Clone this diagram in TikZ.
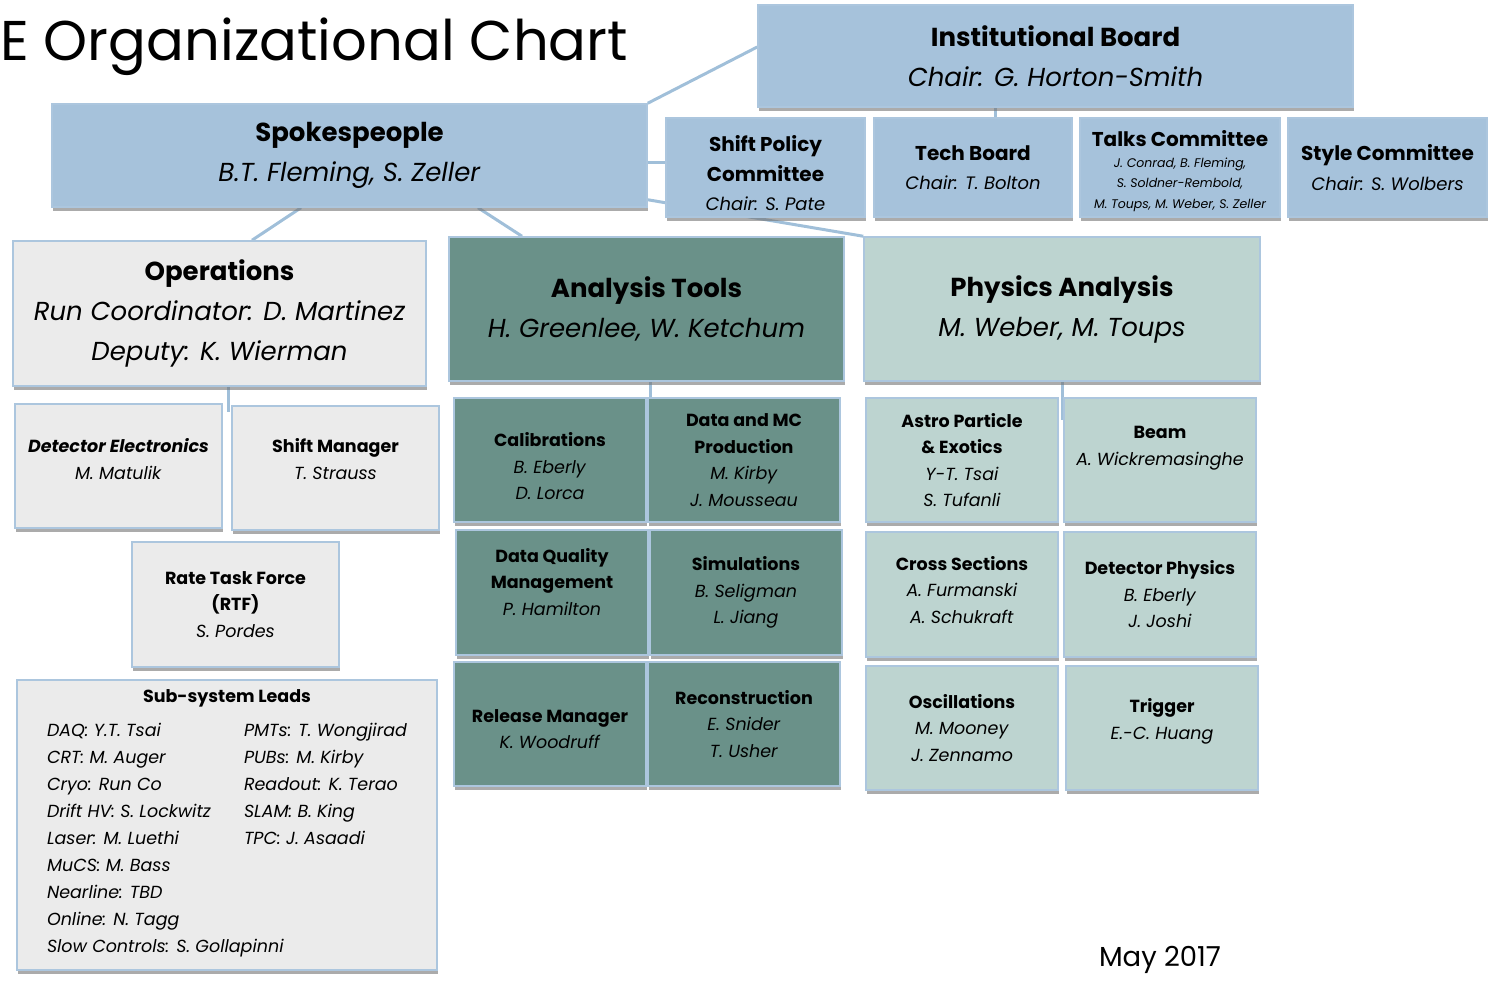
\documentclass[tikz,border=0pt]{standalone}
\usepackage{fontspec}
\setmainfont{Poppins}
\usepackage{xcolor}
\usetikzlibrary{positioning,shadows,backgrounds}

\definecolor{boardblue}{RGB}{166,194,219}
\definecolor{edgeblue}{RGB}{172,198,222}
\definecolor{opsgray}{RGB}{235,235,235}
\definecolor{tooldark}{RGB}{106,145,137}
\definecolor{physlight}{RGB}{189,212,208}
\definecolor{linkblue}{RGB}{160,191,217}

\newcommand{\chairline}[1]{{\fontsize{18}{22}\selectfont\itshape #1}}
\newcommand{\talksline}[1]{{\fontsize{12.5}{20.5}\selectfont\itshape #1}}

\tikzset{
    orgbox/.style={draw=edgeblue, line width=1.5pt, inner sep=2pt, align=center,
        drop shadow={shadow xshift=1pt, shadow yshift=-4pt, fill=black!55, opacity=0.6}},
    boardbox/.style={orgbox, fill=boardblue},
    opsbox/.style={orgbox, fill=opsgray},
    toolbox/.style={orgbox, fill=tooldark},
    physbox/.style={orgbox, fill=physlight},
    boxsize/.style 2 args={minimum width=#1, minimum height=#2},
    link/.style={draw=linkblue, line width=3pt},
    bigtext/.style={font=\fontsize{26}{40}\selectfont},
    midtext/.style={font=\fontsize{20}{29.5}\selectfont},
    smalltext/.style={font=\fontsize{17.5}{26.5}\selectfont}
}

\begin{document}
\begin{tikzpicture}[x=1pt, y=-1pt]
    \useasboundingbox (0,0) rectangle (1501,981);

    % Title
    \node[anchor=base west, inner sep=0pt, font=\fontsize{56}{60}\selectfont] (title) at (0,61) {E Organizational Chart};

    % Top level
    \node[boardbox, boxsize={595}{102}, bigtext] (inst) at (1055.5,56)
        {\textbf{Institutional Board}\\\textit{Chair: G. Horton-Smith}};
    \node[boardbox, boxsize={595}{103}, bigtext] (spokes) at (349.5,155.5)
        {\textbf{Spokespeople}\\\textit{B.T. Fleming, S. Zeller}};

    % Committees
    \node[boardbox, boxsize={199}{99}, midtext] (shiftpol) at (765.5,167.5)
        {\mbox{}\\[-2pt]\textbf{Shift Policy}\\\textbf{Committee}\\\chairline{Chair: S. Pate}};
    \node[boardbox, boxsize={198}{99}, midtext] (tech) at (973,167.5)
        {\textbf{Tech Board}\\\chairline{Chair: T. Bolton}};
    \node[boardbox, boxsize={200}{99}, midtext] (talks) at (1180,167.5)
        {\mbox{}\\[-6.5pt]\textbf{Talks Committee}\\[-9pt]\talksline{J. Conrad, B. Fleming,}\\[-9pt]\talksline{S. Soldner-Rembold,}\\[-9pt]\talksline{M. Toups, M. Weber, S. Zeller}};
    \node[boardbox, boxsize={199}{99}, midtext] (style) at (1387.5,167.5)
        {\textbf{Style Committee}\\\chairline{Chair: S. Wolbers}};

    % Groups
    \node[opsbox, boxsize={413}{145}, bigtext] (ops) at (219.5,313.5)
        {\textbf{Operations}\\\textit{Run Coordinator: D. Martinez}\\\textit{Deputy: K. Wierman}};
    \node[toolbox, boxsize={395}{144}, bigtext] (tools) at (646.5,309)
        {\textbf{Analysis Tools}\\\textit{H. Greenlee, W. Ketchum}};
    \node[physbox, boxsize={396}{144}, bigtext] (phys) at (1062,309)
        {\textbf{Physics Analysis}\\\textit{M. Weber, M. Toups}};

    % Operations
    \node[opsbox, boxsize={207}{124}, smalltext] (detel) at (118.5,466)
        {\textbf{\textit{Detector Electronics}}\\\textit{M. Matulik}\\[-12.5pt]};
    \node[opsbox, boxsize={207}{124}, smalltext] (shiftman) at (335.5,468)
        {\textbf{Shift Manager}\\\textit{T. Strauss}\\[-8.5pt]};
    \node[opsbox, boxsize={207}{125}, smalltext] (rtf) at (235.5,604.5)
        {\textbf{Rate Task Force}\\\textbf{(RTF)}\\\textit{S. Pordes}};
    \node[opsbox, boxsize={420}{290}, smalltext] (leads) at (227,825)
        {\textbf{Sub-system Leads}\\[9pt]
        \renewcommand{\arraystretch}{1.02}\itshape
        \begin{tabular}{@{}p{197pt}@{}l@{}}
            DAQ: Y.T. Tsai & PMTs: T. Wongjirad\\
            CRT: M. Auger & PUBs: M. Kirby\\
            Cryo: Run Co & Readout: K. Terao\\
            Drift HV: S. Lockwitz & SLAM: B. King\\
            Laser: M. Luethi & TPC: J. Asaadi\\
            MuCS: M. Bass & \\
            Nearline: TBD & \\
            Online: N. Tagg & \\
            \multicolumn{2}{@{}l@{}}{Slow Controls: S. Gollapinni}\\
        \end{tabular}};

    % Analysis tools
    \node[toolbox, boxsize={192}{124}, smalltext] (calib) at (550,460)
        {\mbox{}\\[0pt]\textbf{Calibrations}\\\textit{B. Eberly}\\\textit{D. Lorca}};
    \node[toolbox, boxsize={192}{124}, smalltext] (prod) at (744,460)
        {\textbf{Data and MC}\\\textbf{Production}\\\textit{M. Kirby}\\\textit{J. Mousseau}};
    \node[toolbox, boxsize={192}{125}, smalltext] (dqm) at (552,592.5)
        {\textbf{Data Quality}\\\textbf{Management}\\\textit{P. Hamilton}\\[-4.5pt]};
    \node[toolbox, boxsize={192}{125}, smalltext] (sims) at (746,592.5)
        {\textbf{Simulations}\\\textit{B. Seligman}\\\textit{L. Jiang}};
    \node[toolbox, boxsize={192}{124}, smalltext] (release) at (550,724)
        {\mbox{}\\[-3.5pt]\textbf{Release Manager}\\\textit{K. Woodruff}};
    \node[toolbox, boxsize={192}{124}, smalltext] (reco) at (744,724)
        {\textbf{Reconstruction}\\\textit{E. Snider}\\\textit{T. Usher}};

    % Physics analysis
    \node[physbox, boxsize={192}{124}, smalltext] (astro) at (962,460)
        {\textbf{Astro Particle}\\\textbf{\& Exotics}\\\textit{Y-T. Tsai}\\\textit{S. Tufanli}};
    \node[physbox, boxsize={192}{124}, smalltext] (beam) at (1160,460)
        {\textbf{Beam}\\\textit{A. Wickremasinghe}\\[1.5pt]};
    \node[physbox, boxsize={192}{125}, smalltext] (xsec) at (962,594.5)
        {\textbf{Cross Sections}\\\textit{A. Furmanski}\\\textit{A. Schukraft}\\[-16.5pt]};
    \node[physbox, boxsize={192}{125}, smalltext] (detphys) at (1160,594.5)
        {\textbf{Detector Physics}\\\textit{B. Eberly}\\\textit{J. Joshi}};
    \node[physbox, boxsize={192}{124}, smalltext] (osc) at (962,728)
        {\textbf{Oscillations}\\\textit{M. Mooney}\\\textit{J. Zennamo}};
    \node[physbox, boxsize={192}{124}, smalltext] (trig) at (1162,728)
        {\textbf{Trigger}\\\textit{E.-C. Huang}\\[-8.5pt]};

    % Date
    \node[font=\fontsize{27.5}{30}\selectfont] (date) at (1160,960) {May 2017};

    % Connectors
    \begin{scope}[on background layer]
        \draw[link] (spokes.north east) -- ([yshift=9pt]inst.west);
        \draw[link] ([yshift=-7.5pt]spokes.east) -- ([yshift=-7.5pt]spokes.east -| shiftpol.west);
        \draw[link] ([yshift=8pt]spokes.south east) -- (phys.north west);
        \draw[link] ([xshift=-60pt]inst.south) -- ([xshift=-60pt]inst.south |- tech.north);
        \draw[link] ([xshift=-48.5pt]spokes.south) -- ([xshift=32.5pt]ops.north);
        \draw[link] ([xshift=128.5pt]spokes.south) -- ([xshift=-124.5pt]tools.north);
        \draw[link] ([xshift=8.5pt]ops.south) -- ++(0,25);
        \draw[link] ([xshift=3.5pt]tools.south) -- ([xshift=3.5pt]tools.south |- calib.north);
        \draw[link] (phys.south) -- ++(0,38);
    \end{scope}
\end{tikzpicture}
\end{document}
